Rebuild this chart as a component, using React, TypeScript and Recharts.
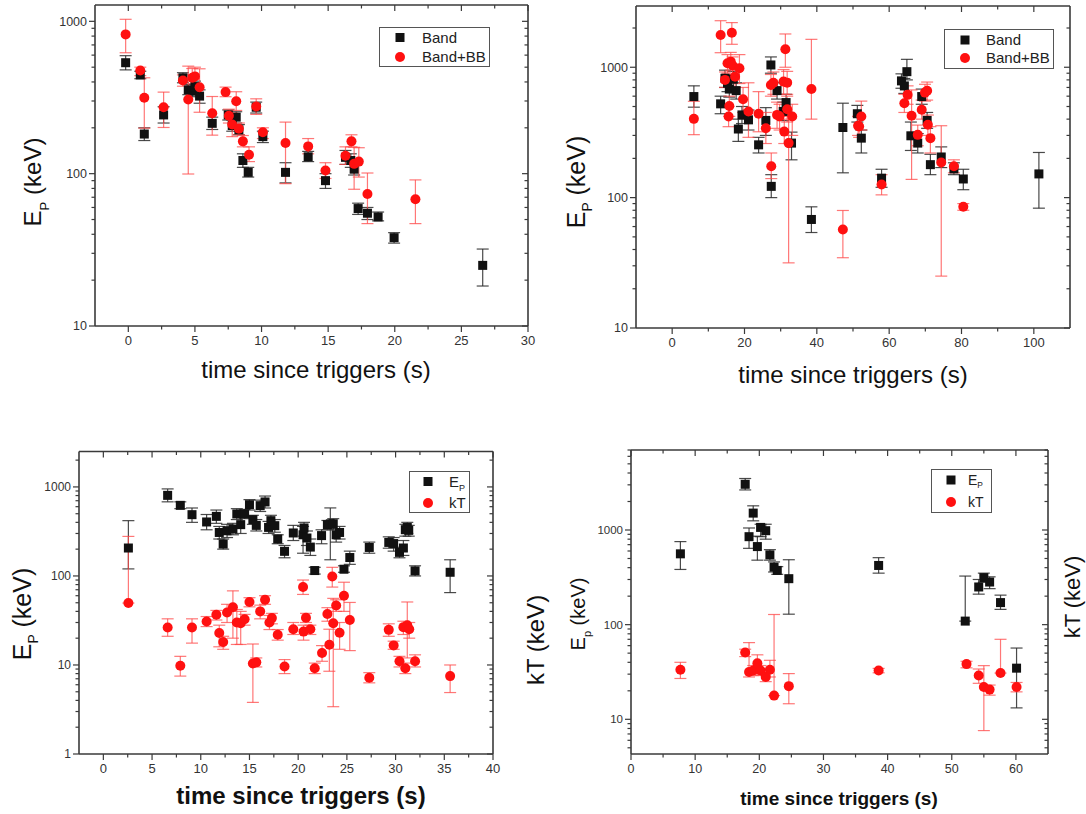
import React from 'react';
import { ScatterChart, Scatter, XAxis, YAxis, ErrorBar, Legend, Label } from 'recharts';

// each point: [time since trigger (s), value (keV), lower end of error bar, upper end]
type Pt = [number, number, number, number];

const p1Band: Pt[] = [
  [-0.2, 535, 480, 595], [0.9, 445, 420, 470], [1.2, 182, 165, 200], [2.65, 243, 215, 275],
  [4.1, 426, 395, 460], [4.5, 355, 330, 385], [4.8, 348, 320, 375], [5.0, 373, 345, 405],
  [5.35, 323, 290, 355], [6.3, 214, 195, 235], [7.5, 243, 225, 262], [7.8, 207, 190, 225],
  [8.1, 235, 215, 255], [8.3, 194, 180, 210], [8.6, 122, 110, 135], [9.0, 102, 95, 110],
  [9.6, 273, 250, 295], [10.1, 175, 160, 190], [11.8, 102, 87, 118], [13.5, 129, 120, 140],
  [14.8, 90, 80, 100], [16.3, 128, 115, 142], [16.7, 122, 110, 135], [16.95, 107, 98, 118],
  [17.25, 59, 54, 64], [17.95, 55, 50, 60], [18.75, 52, 49, 56], [19.95, 38, 35, 41],
  [26.6, 25, 18.3, 32],
];
const p1BandBB: Pt[] = [
  [-0.2, 821, 622, 1031], [0.9, 476, 440, 500], [1.2, 315, 199, 426], [2.65, 273, 201, 343],
  [4.1, 409, 375, 445], [4.5, 307, 99.5, 508], [4.8, 426, 370, 490], [5.0, 435, 390, 500],
  [5.35, 369, 253, 488], [6.3, 249, 179, 321], [7.3, 343, 320, 370], [7.55, 240, 215, 265],
  [7.8, 210, 175, 250], [8.1, 299, 260, 345], [8.3, 197, 180, 215], [8.6, 163, 150, 178],
  [9.06, 133, 120, 150], [9.6, 276, 245, 310], [10.1, 187, 170, 200], [11.8, 159, 86, 218],
  [13.5, 151, 135, 170], [14.8, 105, 93, 118], [16.3, 131, 115, 150], [16.75, 163, 150, 180],
  [16.95, 116, 79, 149], [17.3, 120, 95, 148], [17.95, 73.5, 47, 101], [21.55, 68, 47, 91],
];

const p2Band: Pt[] = [
  [6, 596, 494, 720], [13.4, 524, 440, 600], [14.6, 824, 700, 950], [15.3, 754, 650, 870],
  [15.8, 680, 590, 780], [16.9, 809, 700, 930], [17.7, 662, 570, 760], [18.3, 336, 270, 400],
  [19.3, 431, 370, 500], [21.1, 395, 330, 470], [23.9, 254, 220, 290], [25.9, 391, 300, 490],
  [27.3, 1041, 900, 1200], [27.4, 122, 100, 150], [29.0, 662, 570, 760], [30.7, 458, 390, 540],
  [31.5, 536, 460, 620], [33.0, 262, 195, 318], [38.5, 68, 54, 85], [47.2, 345, 155, 530],
  [51.2, 440, 380, 510], [52.3, 286, 220, 330], [57.9, 141, 120, 165], [63.4, 786, 690, 890],
  [64.2, 719, 630, 820], [64.9, 925, 800, 1150], [66.0, 298, 230, 380], [67.9, 262, 220, 310],
  [69.0, 596, 520, 680], [70.5, 391, 340, 450], [71.4, 179, 150, 215], [74.4, 205, 170, 245],
  [77.9, 166, 150, 185], [80.5, 139, 115, 165], [101.4, 152, 83, 222],
];
const p2BandBB: Pt[] = [
  [6, 402, 304, 548], [13.4, 1767, 1293, 2275], [14.6, 800, 700, 920], [15.3, 1073, 900, 1250],
  [15.6, 419, 350, 500], [15.8, 505, 420, 600], [16.2, 1104, 950, 1300], [16.5, 1840, 1500, 2200],
  [16.7, 1030, 880, 1200], [17.4, 847, 700, 1000], [18.6, 982, 750, 1250], [19.6, 569, 450, 700],
  [21.1, 458, 290, 760], [23.9, 440, 320, 650], [25.9, 341, 260, 450], [27.3, 732, 600, 880],
  [27.4, 174, 140, 220], [28.0, 760, 620, 920], [29.0, 431, 340, 540], [29.7, 420, 330, 520],
  [30.8, 776, 620, 960], [31.0, 321, 260, 400], [31.3, 1373, 1000, 1800], [31.8, 762, 620, 930],
  [31.8, 477, 380, 600], [32.2, 262, 31.6, 420], [33.2, 419, 300, 520], [38.5, 680, 400, 1637],
  [47.2, 57, 34.6, 79.7], [51.4, 356, 300, 420], [51.7, 351, 290, 420], [52.3, 419, 330, 550],
  [57.9, 126, 105, 150], [64.2, 530, 450, 620], [65.1, 614, 520, 720], [66.2, 424, 138, 670],
  [67.9, 303, 250, 360], [69.0, 472, 400, 560], [69.9, 639, 550, 740], [70.5, 660, 560, 770],
  [70.7, 362, 300, 430], [71.4, 286, 220, 350], [74.4, 186, 25, 356], [77.9, 174, 155, 195],
  [80.5, 85, 80, 90],
];

const p3Ep: Pt[] = [
  [2.57, 206, 120, 418], [6.6, 804, 680, 950], [7.9, 621, 570, 680], [9.1, 488, 400, 580],
  [10.6, 404, 330, 490], [11.6, 467, 390, 550], [11.9, 308, 260, 360], [12.3, 228, 200, 260],
  [12.7, 322, 270, 380], [13.3, 337, 290, 390], [13.7, 497, 430, 570], [14.1, 377, 300, 460],
  [14.5, 497, 440, 560], [15.0, 632, 550, 720], [15.35, 429, 380, 480], [15.7, 370, 320, 430],
  [16.1, 616, 530, 710], [16.6, 678, 580, 790], [16.96, 351, 300, 410], [17.2, 418, 360, 480],
  [17.6, 367, 310, 430], [17.9, 260, 230, 290], [18.6, 189, 160, 220], [19.5, 304, 250, 370],
  [20.5, 290, 180, 360], [20.6, 346, 280, 400], [20.9, 267, 220, 320], [21.25, 211, 170, 260],
  [21.7, 115, 105, 125], [22.4, 284, 230, 330], [23.0, 377, 330, 420], [23.3, 385, 152, 581],
  [23.6, 386, 330, 440], [23.9, 290, 240, 340], [24.25, 308, 260, 360], [24.7, 119, 110, 130],
  [25.3, 161, 135, 190], [27.3, 209, 180, 240], [29.3, 238, 205, 275], [29.8, 231, 190, 270],
  [30.4, 184, 160, 210], [30.8, 206, 170, 250], [31.0, 331, 280, 380], [31.2, 350, 300, 400],
  [31.35, 325, 280, 370], [32.0, 114, 100, 130], [35.6, 110, 65, 152],
];
const p3kT: Pt[] = [
  [2.57, 49.6, 49.6, 278], [6.6, 26.4, 21, 33], [7.9, 9.8, 7.5, 12.5], [9.1, 26.4, 17.6, 33],
  [10.6, 30.8, 27, 35], [11.6, 36.6, 32, 41], [11.9, 22.9, 16, 28], [12.3, 18.1, 15, 21],
  [12.7, 38.9, 30, 48], [13.3, 44.6, 20, 68], [13.7, 30, 17, 42], [14.1, 29.5, 17, 40],
  [14.5, 32.6, 28, 37], [15.0, 50.9, 45, 57], [15.35, 10.4, 3.8, 17.2], [15.7, 10.7, 9.5, 12],
  [16.1, 40, 33, 47], [16.6, 54, 48, 60], [17.05, 30, 25, 36], [17.3, 33.6, 29, 38],
  [17.9, 21.9, 19, 25], [18.6, 9.6, 8, 11.5], [19.5, 25.2, 22, 30], [20.5, 75, 62, 90],
  [20.55, 23.7, 19, 28], [20.8, 34, 30, 38], [21.25, 25.2, 22, 28], [21.7, 9.2, 8, 10.5],
  [22.45, 13.6, 11, 16.5], [23.0, 37.3, 31, 44], [23.2, 16.9, 8.5, 25.2], [23.5, 98.6, 75, 125],
  [23.6, 29.4, 3.4, 56], [23.9, 46.5, 40, 54], [24.25, 23, 15, 30], [24.7, 60, 40, 85],
  [25.3, 32, 14.5, 50.4], [27.3, 7.2, 6.3, 8.2], [29.3, 24.8, 21, 29], [29.8, 16.6, 15, 18.5],
  [30.4, 11, 9.5, 12.5], [30.8, 26.6, 22, 31], [31.0, 9.2, 8, 10.5], [31.2, 28, 12, 51],
  [31.4, 25.2, 20, 30], [32.0, 11, 9.5, 13], [35.6, 7.5, 4.9, 10],
];

const p4Ep: Pt[] = [
  [7.7, 560, 383, 754], [17.8, 3040, 2650, 3500], [18.4, 850, 640, 1050], [19.05, 1508, 1250, 1800],
  [19.7, 668, 480, 860], [20.2, 1065, 850, 1150], [21.0, 983, 800, 1150], [21.65, 546, 480, 620],
  [22.3, 405, 360, 460], [22.8, 374, 340, 410], [24.6, 306, 129, 485], [38.6, 422, 350, 510],
  [52.1, 109, 109, 326], [54.2, 250, 210, 300], [55.0, 314, 280, 350], [55.9, 282, 240, 320],
  [57.6, 171, 145, 205], [60.1, 34.7, 13.2, 56.6],
];
const p4kT: Pt[] = [
  [7.7, 33.4, 27, 40], [17.8, 50.7, 46, 55], [18.4, 31.6, 28, 64.6], [19.05, 32.8, 29, 37],
  [19.7, 39, 30, 48], [20.2, 32.8, 29, 37], [21.0, 28, 25, 31], [21.65, 33.4, 28, 42],
  [22.3, 17.8, 17.8, 128], [24.6, 22.4, 14.6, 30.4], [38.6, 32.8, 31, 34.5], [52.3, 38.3, 35, 41],
  [54.2, 29, 24, 34], [55.0, 21.9, 7.6, 36.9], [55.9, 20.6, 18, 23], [57.6, 30.8, 30.8, 70],
  [60.1, 21.9, 19.5, 24.5],
];

// axis ticks
const p1XTicks = [0, 5, 10, 15, 20, 25, 30];
const p1XMinor = [2.5, 7.5, 12.5, 17.5, 22.5, 27.5];
const p2XTicks = [0, 20, 40, 60, 80, 100];
const p2XMinor = [10, 30, 50, 70, 90];
const p3XTicks = [0, 5, 10, 15, 20, 25, 30, 35, 40];
const p3XMinor = [2.5, 7.5, 12.5, 17.5, 22.5, 27.5, 32.5, 37.5];
const p4XTicks = [0, 10, 20, 30, 40, 50, 60];
const p4XMinor = [5, 15, 25, 35, 45, 55];
const topYTicks = [10, 100, 1000];
const p3YTicks = [1, 10, 100, 1000];
const p4YTicks = [10, 100, 1000];

const FONT = '"Liberation Sans", Arial, Helvetica, sans-serif';
const AXIS = '#3a3a3a';
const BLACK = '#111';
const RED = '#ff1010';

function logMinor(lo: number, hi: number) {
  const out: number[] = [];
  for (let d = Math.floor(Math.log10(lo)); d <= Math.ceil(Math.log10(hi)); d++) {
    for (let m = 2; m <= 9; m++) {
      const v = m * Math.pow(10, d);
      if (v >= lo && v <= hi) out.push(v);
    }
  }
  return out;
}

const rows = (pts: Pt[]) => pts.map(([t, v, lo, hi]) => ({ t, v, err: [v - lo, hi - v] }));

const Square = (p: any) => <rect x={p.cx - 4.5} y={p.cy - 4.5} width={9} height={9} fill={BLACK} />;
const Dot = (p: any) => <circle cx={p.cx} cy={p.cy} r={5} fill={RED} />;
const Nothing = () => <g />;

function XTick(props: any) {
  const { x, y, payload, majors, fs, labels } = props;
  const major = majors.includes(payload.value);
  const len = major ? 6 : 3.5;
  return (
    <g>
      <line x1={x} x2={x} y1={y} y2={y + len} stroke={AXIS} strokeWidth={1.2} />
      {labels && major && (
        <text x={x} y={y + 10} dy="0.71em" textAnchor="middle" fontSize={fs} fontFamily={FONT} fill="#333">
          {payload.value}
        </text>
      )}
    </g>
  );
}

function YTick(props: any) {
  const { x, y, payload, majors, fs, labels } = props;
  const major = majors.includes(payload.value);
  const len = major ? 6 : 3.5;
  return (
    <g>
      <line x1={x} x2={x - len} y1={y} y2={y} stroke={AXIS} strokeWidth={1.2} />
      {labels && major && (
        <text x={x - 8} y={y} dy="0.35em" textAnchor="end" fontSize={fs} fontFamily={FONT} fill="#333">
          {payload.value}
        </text>
      )}
    </g>
  );
}

function YTitle({ x, y, fs, main, sub, rest }: { x: number; y: number; fs: number; main: string; sub?: string; rest: string }) {
  return (
    <text transform={`translate(${x},${y}) rotate(-90)`} dy={fs * 0.35} textAnchor="middle" fontSize={fs} fontFamily={FONT} fill="#111">
      {main}
      {sub && <tspan fontSize={fs * 0.55} dy={fs * 0.3}>{sub}</tspan>}
      <tspan dy={sub ? -fs * 0.3 : 0}>{rest}</tspan>
    </text>
  );
}

function XTitle({ x, y, fs, bold }: { x: number; y: number; fs: number; bold?: boolean }) {
  return (
    <text x={x} y={y} textAnchor="middle" fontSize={fs} fontFamily={FONT} fontWeight={bold ? 'bold' : 'normal'} fill="#111">
      time since triggers (s)
    </text>
  );
}

type LegendItem = { kind: 'square' | 'circle'; label: React.ReactNode; my: number };
function LegendBox({ w, h, mx, tx, fs, items }: { w: number; h: number; mx: number; tx: number; fs: number; items: LegendItem[] }) {
  return (
    <svg width={w} height={h} style={{ display: 'block' }}>
      <rect x={0.5} y={0.5} width={w - 1} height={h - 1} fill="#fff" stroke="#555" strokeWidth={1} />
      {items.map((it, i) => (
        <g key={i}>
          {it.kind === 'square' ? Square({ cx: mx, cy: it.my }) : Dot({ cx: mx, cy: it.my })}
          <text x={tx} y={it.my} dy="0.35em" fontSize={fs} fontFamily={FONT} fill="#222">{it.label}</text>
        </g>
      ))}
    </svg>
  );
}

type Series = { name: string; pts: Pt[]; kind: 'square' | 'circle' };
type PanelProps = {
  left: number; top: number; width: number; height: number;
  mTop: number; mRight: number; yW: number; xH: number;
  xDomain: [number, number]; xMajor: number[]; xMinor: number[]; xFont: number;
  yDomain: [number, number]; yMajor: number[]; yFont: number;
  series: Series[];
  legend: { x: number; y: number; w: number; h: number; mx: number; tx: number; fs: number; items: LegendItem[] };
  titles: React.ReactNode;
};

function Panel(p: PanelProps) {
  const xTicks = [...p.xMajor, ...p.xMinor];
  const yTicks = [...p.yMajor, ...logMinor(p.yDomain[0], p.yDomain[1])];
  return (
    <div style={{ position: 'absolute', left: p.left, top: p.top }}>
      <ScatterChart width={p.width} height={p.height} margin={{ top: p.mTop, right: p.mRight, bottom: 0, left: 0 }}>
        <XAxis
          xAxisId="b" dataKey="t" type="number" domain={p.xDomain} allowDataOverflow
          ticks={xTicks} interval={0} tickSize={0} tickMargin={0} tickLine={false} height={p.xH}
          axisLine={{ stroke: AXIS, strokeWidth: 1.6 }}
          tick={(t: any) => <XTick {...t} majors={p.xMajor} fs={p.xFont} labels />}
        >
          <Label content={() => <g>{p.titles}</g>} />
        </XAxis>
        <XAxis
          xAxisId="t" dataKey="t" orientation="top" type="number" domain={p.xDomain} allowDataOverflow
          ticks={xTicks} interval={0} tickSize={0} tickMargin={0} tickLine={false} height={1}
          axisLine={{ stroke: AXIS, strokeWidth: 1.6 }}
          tick={(t: any) => <XTick {...t} majors={p.xMajor} fs={p.xFont} />}
        />
        <YAxis
          yAxisId="l" dataKey="v" type="number" scale="log" domain={p.yDomain} allowDataOverflow
          ticks={yTicks} interval={0} tickSize={0} tickMargin={0} tickLine={false} width={p.yW}
          axisLine={{ stroke: AXIS, strokeWidth: 1.6 }}
          tick={(t: any) => <YTick {...t} majors={p.yMajor} fs={p.yFont} labels />}
        />
        <YAxis
          yAxisId="r" dataKey="v" orientation="right" type="number" scale="log" domain={p.yDomain} allowDataOverflow
          ticks={yTicks} interval={0} tickSize={0} tickMargin={0} tickLine={false} width={1}
          axisLine={{ stroke: AXIS, strokeWidth: 1.6 }}
          tick={(t: any) => <YTick {...t} majors={p.yMajor} fs={p.yFont} />}
        />
        {/* invisible series so the mirrored frame axes (top / right) get drawn */}
        <Scatter
          name="frame" xAxisId="t" yAxisId="r" data={rows(p.series[0].pts)}
          shape={Nothing} isAnimationActive={false} legendType="none"
        />
        {p.series.map((s) => (
          <Scatter
            key={s.name} name={s.name} xAxisId="b" yAxisId="l" data={rows(s.pts)}
            shape={s.kind === 'square' ? Square : Dot} isAnimationActive={false}
          >
            <ErrorBar
              dataKey="err" direction="y" width={6} strokeWidth={1.2}
              stroke={s.kind === 'square' ? '#2a2a2a' : '#ff4a4a'} strokeOpacity={s.kind === 'square' ? 0.85 : 0.75}
            />
          </Scatter>
        ))}
        <Legend
          layout="vertical" align="center" verticalAlign="middle"
          wrapperStyle={{ left: p.legend.x, top: p.legend.y, width: p.legend.w, height: p.legend.h }}
          content={() => (
            <LegendBox w={p.legend.w} h={p.legend.h} mx={p.legend.mx} tx={p.legend.tx} fs={p.legend.fs} items={p.legend.items} />
          )}
        />
      </ScatterChart>
    </div>
  );
}

const epLabel = (fs: number) => (
  <>
    E<tspan fontSize={fs * 0.6} dy={fs * 0.25}>P</tspan>
  </>
);

export default function App() {
  return (
    <div style={{ position: 'absolute', left: 0, top: 0, width: 1086, height: 814, background: '#fff', overflow: 'hidden' }}>
      <Panel
        left={0} top={0} width={560} height={400} mTop={4} mRight={31} yW={95} xH={74}
        xDomain={[-2.5, 30]} xMajor={p1XTicks} xMinor={p1XMinor} xFont={13}
        yDomain={[10, 1280]} yMajor={topYTicks} yFont={12.5}
        series={[{ name: 'Band', pts: p1Band, kind: 'square' }, { name: 'Band+BB', pts: p1BandBB, kind: 'circle' }]}
        legend={{ x: 379, y: 27, w: 111, h: 40, mx: 21, tx: 43, fs: 15, items: [
          { kind: 'square', label: 'Band', my: 10.5 }, { kind: 'circle', label: 'Band+BB', my: 30 },
        ] }}
        titles={<>
          <YTitle x={33} y={182} fs={24} main="E" sub="P" rest=" (keV)" />
          <XTitle x={316} y={378} fs={24} />
        </>}
      />
      <Panel
        left={560} top={0} width={526} height={400} mTop={5} mRight={15} yW={76} xH={72}
        xDomain={[-10, 110]} xMajor={p2XTicks} xMinor={p2XMinor} xFont={13}
        yDomain={[10, 2950]} yMajor={topYTicks} yFont={12.5}
        series={[{ name: 'Band', pts: p2Band, kind: 'square' }, { name: 'Band+BB', pts: p2BandBB, kind: 'circle' }]}
        legend={{ x: 384, y: 29, w: 110, h: 40, mx: 21, tx: 42, fs: 15, items: [
          { kind: 'square', label: 'Band', my: 11 }, { kind: 'circle', label: 'Band+BB', my: 29 },
        ] }}
        titles={<>
          <YTitle x={16} y={182} fs={25} main="E" sub="P" rest=" (keV)" />
          <XTitle x={293} y={383} fs={24} />
        </>}
      />
      <Panel
        left={0} top={420} width={560} height={394} mTop={30.5} mRight={66} yW={79} xH={60}
        xDomain={[-2.5, 40]} xMajor={p3XTicks} xMinor={p3XMinor} xFont={13}
        yDomain={[1, 2500]} yMajor={p3YTicks} yFont={12}
        series={[{ name: 'Ep', pts: p3Ep, kind: 'square' }, { name: 'kT', pts: p3kT, kind: 'circle' }]}
        legend={{ x: 409, y: 51, w: 61, h: 42, mx: 19, tx: 40, fs: 15, items: [
          { kind: 'square', label: epLabel(15), my: 10.5 }, { kind: 'circle', label: 'kT', my: 32 },
        ] }}
        titles={<>
          <YTitle x={22} y={194} fs={25} main="E" sub="P" rest=" (keV)" />
          <YTitle x={536} y={220} fs={24} main="kT (keV)" rest="" />
          <XTitle x={301} y={384} fs={24} bold />
        </>}
      />
      <Panel
        left={560} top={420} width={526} height={394} mTop={29} mRight={37} yW={71} xH={60}
        xDomain={[0, 65]} xMajor={p4XTicks} xMinor={p4XMinor} xFont={12.5}
        yDomain={[4.3, 7000]} yMajor={p4YTicks} yFont={11.5}
        series={[{ name: 'Ep', pts: p4Ep, kind: 'square' }, { name: 'kT', pts: p4kT, kind: 'circle' }]}
        legend={{ x: 371, y: 49, w: 61, h: 44, mx: 20, tx: 37, fs: 14, items: [
          { kind: 'square', label: epLabel(14), my: 11 }, { kind: 'circle', label: 'kT', my: 33 },
        ] }}
        titles={<>
          <YTitle x={18} y={194} fs={20} main="E" sub="p" rest=" (keV)" />
          <YTitle x={512} y={177} fs={22} main="kT (keV)" rest="" />
          <XTitle x={279} y={385} fs={19} bold />
        </>}
      />
    </div>
  );
}
